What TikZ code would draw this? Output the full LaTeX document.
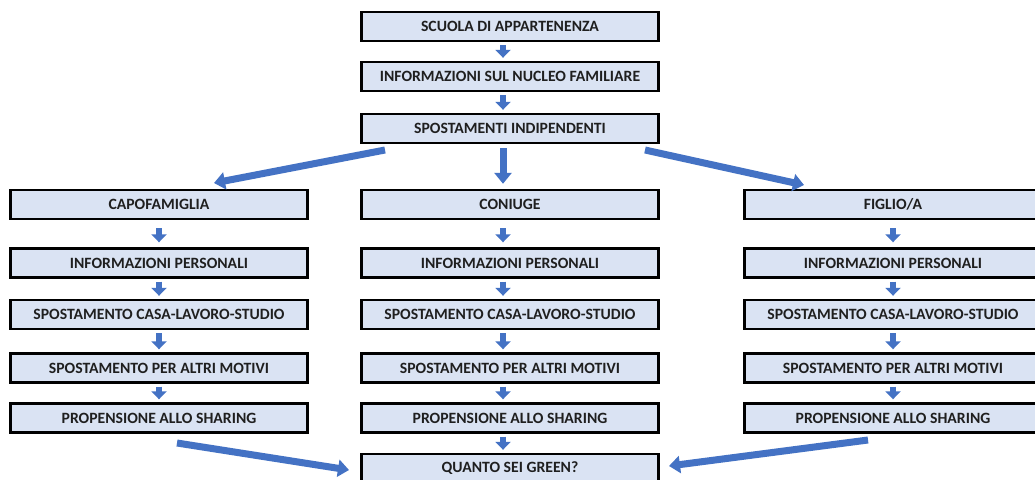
\documentclass[tikz,border=0pt]{standalone}
\usepackage{fontspec}
\setmainfont{Carlito}
\usetikzlibrary{arrows.meta,calc}
\definecolor{boxfill}{HTML}{DAE3F3}
\definecolor{arrowblue}{HTML}{4472C4}
\tikzset{
  box/.style={draw=black, line width=2.4pt, fill=boxfill, minimum width=297pt, minimum height=29pt, inner sep=0pt, font=\fontsize{15.7}{17}\selectfont\bfseries, text=black!88},
  sarrow/.style={draw=arrowblue, line width=6pt, -{Triangle[width=15pt,length=8pt]}, shorten <=3pt, shorten >=3pt},
  barrow/.style={draw=arrowblue, line width=7pt, -{Triangle[width=17pt,length=11pt]}}
}
\begin{document}
\begin{tikzpicture}[x=1pt,y=-1pt]
\clip (0,0) rectangle (1035,479);
\fill[white] (0,0) rectangle (1035,479);
% top column
\node[box] (b1) at (510,26.5) {SCUOLA DI APPARTENENZA};
\node[box] (b2) at (510,76.5) {INFORMAZIONI SUL NUCLEO FAMILIARE};
\node[box] (b3) at (510,128.5) {SPOSTAMENTI INDIPENDENTI};
% left column
\node[box] (l1) at (159,204.5) {CAPOFAMIGLIA};
\node[box] (l2) at (159,263) {INFORMAZIONI PERSONALI};
\node[box] (l3) at (159,314.5) {SPOSTAMENTO CASA-LAVORO-STUDIO};
\node[box] (l4) at (159,368) {SPOSTAMENTO PER ALTRI MOTIVI};
\node[box] (l5) at (159,418) {PROPENSIONE ALLO SHARING};
% centre column
\node[box] (c1) at (510,204.5) {CONIUGE};
\node[box] (c2) at (510,263) {INFORMAZIONI PERSONALI};
\node[box] (c3) at (510,314.5) {SPOSTAMENTO CASA-LAVORO-STUDIO};
\node[box] (c4) at (510,368) {SPOSTAMENTO PER ALTRI MOTIVI};
\node[box] (c5) at (510,418) {PROPENSIONE ALLO SHARING};
% right column
\node[box] (r1) at (893,204.5) {FIGLIO/A};
\node[box] (r2) at (893,263) {INFORMAZIONI PERSONALI};
\node[box] (r3) at (893,314.5) {SPOSTAMENTO CASA-LAVORO-STUDIO};
\node[box] (r4) at (893,368) {SPOSTAMENTO PER ALTRI MOTIVI};
\node[box] (r5) at (893,418) {PROPENSIONE ALLO SHARING};
% final
\node[box] (g) at (510,468.5) {QUANTO SEI GREEN?};
% small arrows top
\draw[sarrow] ([xshift=-7pt]b1.south) -- ([xshift=-7pt]b2.north);
\draw[sarrow] ([xshift=-7pt]b2.south) -- ([xshift=-7pt]b3.north);
% left column arrows
\draw[sarrow, shorten <=8pt, shorten >=5pt] (l1.south) -- (l2.north);
\draw[sarrow] (l2.south) -- (l3.north);
\draw[sarrow] (l3.south) -- (l4.north);
\draw[sarrow] (l4.south) -- (l5.north);
% centre column arrows
\draw[sarrow, shorten <=8pt, shorten >=5pt] ([xshift=-7pt]c1.south) -- ([xshift=-7pt]c2.north);
\draw[sarrow] ([xshift=-7pt]c2.south) -- ([xshift=-7pt]c3.north);
\draw[sarrow] ([xshift=-7pt]c3.south) -- ([xshift=-7pt]c4.north);
\draw[sarrow] ([xshift=-7pt]c4.south) -- ([xshift=-7pt]c5.north);
\draw[sarrow] ([xshift=-7pt]c5.south) -- ([xshift=-7pt]g.north);
% right column arrows
\draw[sarrow, shorten <=8pt, shorten >=5pt] (r1.south) -- (r2.north);
\draw[sarrow] (r2.south) -- (r3.north);
\draw[sarrow] (r3.south) -- (r4.north);
\draw[sarrow] (r4.south) -- (r5.north);
% big arrows
\coordinate (bl0) at (385,150);
\coordinate (bl1) at (214,183);
\coordinate (br0) at (645,150);
\coordinate (br1) at (804,185);
\draw[barrow] (bl0) -- (bl1);
\draw[barrow] (br0) -- (br1);
\draw[barrow, shorten <=4pt, shorten >=5pt] ([xshift=-7pt]b3.south) -- ([xshift=-7pt]c1.north);
\coordinate (gl0) at (177,443);
\coordinate (gl1) at (349,470);
\coordinate (gr0) at (868,440);
\coordinate (gr1) at (669,466);
\draw[barrow] (gl0) -- (gl1);
\draw[barrow] (gr0) -- (gr1);
\end{tikzpicture}
\end{document}
